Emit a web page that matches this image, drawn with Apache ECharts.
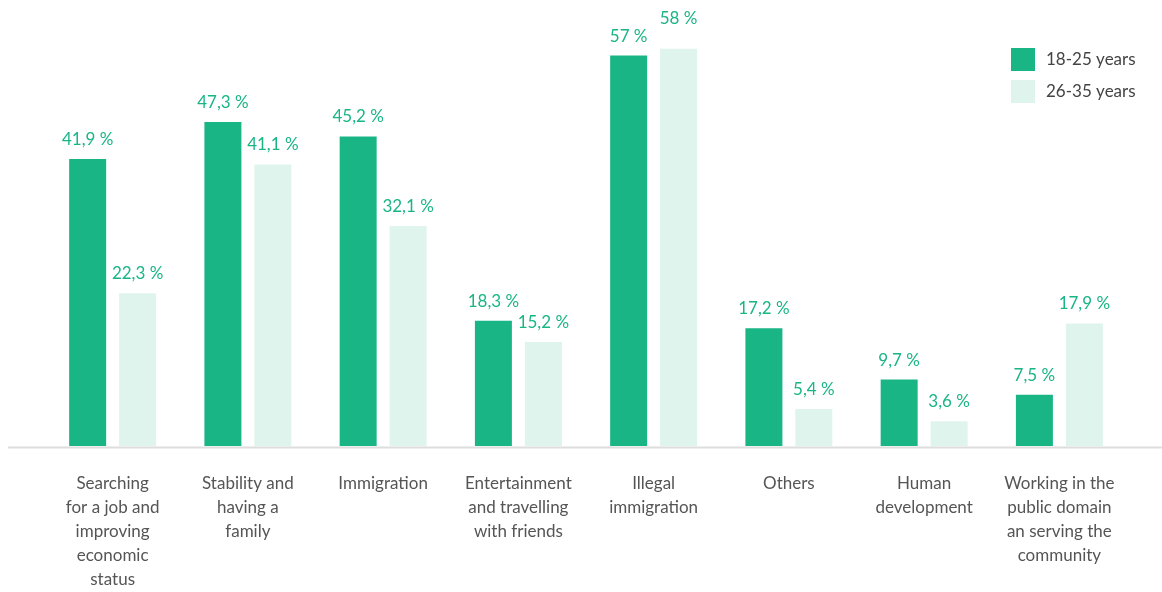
<!DOCTYPE html>
<html>
<head>
<meta charset="utf-8">
<script src="https://cdn.jsdelivr.net/npm/echarts@6/dist/echarts.min.js"></script>
<style>
  html, body { margin: 0; padding: 0; background: #fff; }
  #chart { width: 1162px; height: 592px; }
</style>
</head>
<body>
<div id="chart"></div>
<script>
const categories = [
  'Searching\nfor a job and\nimproving\neconomic\nstatus',
  'Stability and\nhaving a\nfamily',
  'Immigration',
  'Entertainment\nand travelling\nwith friends',
  'Illegal\nimmigration',
  'Others',
  'Human\ndevelopment',
  'Working in the\npublic domain\nan serving the\ncommunity'
];
const seriesNames = ['18-25 years', '26-35 years'];
const youngValues = [41.9, 47.3, 45.2, 18.3, 57, 17.2, 9.7, 7.5];
const olderValues = [22.3, 41.1, 32.1, 15.2, 58, 5.4, 3.6, 17.9];

const FONT = 'Lato, "Open Sans", sans-serif';
const fmt = p => String(p.value).replace('.', ',') + ' %';

// The tallest bar's label sits a little higher so it clears its neighbour.
const maxOlder = Math.max(...olderValues);
const olderData = olderValues.map(v =>
  v === maxOlder ? { value: v, label: { distance: 22 } } : v
);

const chart = echarts.init(document.getElementById('chart'));
chart.setOption({
  animation: false,
  textStyle: { fontFamily: FONT },
  grid: { left: 45, right: 35, top: 35, bottom: 145, containLabel: false },
  legend: {
    orient: 'vertical',
    left: 1006,
    top: 43,
    itemWidth: 24,
    itemHeight: 23,
    itemGap: 9,
    icon: 'rect',
    textStyle: { fontFamily: FONT, fontSize: 17, color: '#444', padding: [3, 0, 0, 6] },
    data: seriesNames
  },
  xAxis: {
    type: 'category',
    data: categories,
    axisLine: { show: false },
    axisTick: { show: false },
    axisLabel: {
      interval: 0,
      margin: 26,
      fontFamily: FONT,
      fontSize: 17,
      lineHeight: 24,
      color: '#555',
      verticalAlign: 'top'
    }
  },
  yAxis: {
    type: 'value',
    min: 0,
    max: 60,
    show: false,
    splitLine: { show: false }
  },
  graphic: [{
    type: 'line',
    shape: { x1: 8, y1: 447.5, x2: 1162, y2: 447.5 },
    style: { stroke: '#dddddd', lineWidth: 2 },
    z: 0
  }],
  series: [
    {
      name: seriesNames[0],
      type: 'bar',
      data: youngValues,
      barWidth: 37,
      barGap: '35%',
      itemStyle: { color: '#1ab585' },
      label: {
        show: true, position: 'top', distance: 11,
        formatter: fmt, fontFamily: FONT, fontSize: 17, color: '#1ab585'
      },
      z: 2
    },
    {
      name: seriesNames[1],
      type: 'bar',
      data: olderData,
      barWidth: 37,
      itemStyle: { color: '#dff4ec' },
      label: {
        show: true, position: 'top', distance: 11,
        formatter: fmt, fontFamily: FONT, fontSize: 17, color: '#1ab585'
      },
      z: 2
    }
  ]
});
</script>
</body>
</html>
